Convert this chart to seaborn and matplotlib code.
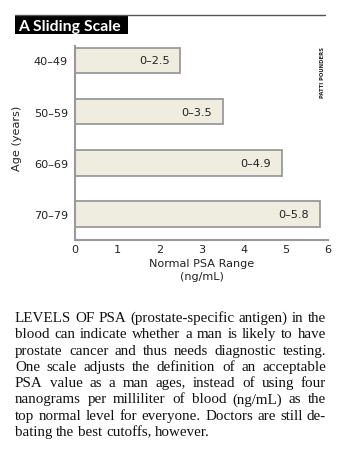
import matplotlib
matplotlib.use("Agg")
import matplotlib.pyplot as plt
import seaborn as sns
import pandas as pd

# ---- data ----
age_groups = ["40\u201349", "50\u201359", "60\u201369", "70\u201379"]
psa_upper = [2.5, 3.5, 4.9, 5.8]
bar_labels = ["0\u20132.5", "0\u20133.5", "0\u20134.9", "0\u20135.8"]
x_ticks = [0, 1, 2, 3, 4, 5, 6]
title = "A Sliding Scale"
credit = "PATTI POUNDERS"
x_label = "Normal PSA Range\n(ng/mL)"
y_label = "Age (years)"
body_lines = [
    "LEVELS OF PSA (prostate-specific antigen) in the",
    "blood can indicate whether a man is likely to have",
    "prostate cancer and thus needs diagnostic testing.",
    "One scale adjusts the definition of an acceptable",
    "PSA value as a man ages, instead of using four",
    "nanograms per milliliter of blood (ng/mL) as the",
    "top normal level for everyone. Doctors are still de-",
    "bating the best cutoffs, however.",
]

sns.set_theme(style="white")
plt.rcParams["font.family"] = ["DejaVu Sans"]

W, H = 339, 452
fig = plt.figure(figsize=(W / 100, H / 100), dpi=100)
fig.patch.set_facecolor("white")

def fx(px):
    return px / W

def fy(py):
    return 1 - py / H

lab_fs = 8.1
ax = fig.add_axes([fx(75), fy(241), fx(328) - fx(75), fy(47) - fy(241)])
df = pd.DataFrame({"age": age_groups, "psa": psa_upper})
sns.barplot(data=df, x="psa", y="age", orient="h", color="#efece0",
            saturation=1, edgecolor="#9a9a9a", linewidth=1.3, width=0.5, ax=ax)

ax.set_xlim(0, 6)
ax.set_ylim(3.51, -0.28)
ax.set_xticks(x_ticks)
ax.set_xticklabels([str(t) for t in x_ticks], fontsize=lab_fs, color="#222222")
ax.tick_params(axis="x", direction="in", length=5, width=1.2, color="#a0a0a0", pad=3)
ax.tick_params(axis="y", length=0, pad=5, labelsize=lab_fs, labelcolor="#222222")
ax.set_xlabel(x_label, fontsize=lab_fs, color="#222222", labelpad=3, linespacing=1.35)
ax.set_ylabel("")
for s in ["top", "right"]:
    ax.spines[s].set_visible(False)
for s in ["left", "bottom"]:
    ax.spines[s].set_color("#9a9a9a")
    ax.spines[s].set_linewidth(1.5)
ax.patch.set_alpha(0)

for i, (v, lab) in enumerate(zip(psa_upper, bar_labels)):
    ax.annotate(lab, xy=(v, i), xytext=(-7.5, 0), textcoords="offset points",
                ha="right", va="center", fontsize=lab_fs, color="#222222")

fig.text(fx(17), fy(138), y_label, rotation=90, ha="center", va="center",
         fontsize=lab_fs, color="#222222")

# top rule and title box
fig.add_artist(plt.Line2D([fx(15), fx(325)], [fy(16), fy(16)], color="#555555", lw=1))
fig.add_artist(plt.Rectangle((fx(15), fy(35)), fx(128) - fx(15), fy(16.5) - fy(35),
                             facecolor="black", edgecolor="none"))
fig.text(fx(18), fy(26.5), title, ha="left", va="center", fontsize=11.3,
         fontweight="bold", color="white", family="Lato")

fig.text(fx(323), fy(72), credit, rotation=90, ha="center", va="center",
         fontsize=3.8, fontweight="bold", color="#222222")

# body text, justified
left, right = 15, 326
fs = 10.8
renderer = fig.canvas.get_renderer()
sp = fig.text(0, 0, "a a", fontsize=fs, family="Liberation Serif")
sa = fig.text(0, 0, "aa", fontsize=fs, family="Liberation Serif")
space_w = sp.get_window_extent(renderer).width - sa.get_window_extent(renderer).width
sp.remove()
sa.remove()
for li, line in enumerate(body_lines):
    y = fy(322 + li * 16.3)
    words = line.split(" ")
    texts = [fig.text(0, y, w, fontsize=fs, family="Liberation Serif",
                      color="#111111", ha="left", va="baseline") for w in words]
    widths = [t.get_window_extent(renderer).width for t in texts]
    total = sum(widths)
    avail = right - left
    if li < len(body_lines) - 1 and len(words) > 1:
        gap = (avail - total) / (len(words) - 1)
    else:
        gap = space_w
    x = left
    for t, w in zip(texts, widths):
        t.set_x(fx(x))
        x += w + gap

fig.savefig("out.png", dpi=100, facecolor="white")
